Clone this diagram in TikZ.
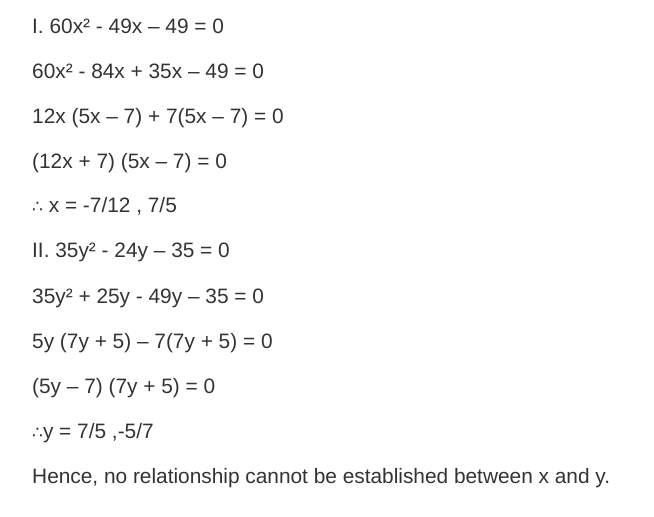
\documentclass[tikz,border=0pt]{standalone}
\usepackage{fontspec}
\setmainfont{Liberation Sans}
\newfontfamily\symfont{DejaVu Sans}
\definecolor{txt}{HTML}{333333}
\begin{document}
\begin{tikzpicture}[x=1bp,y=-1bp,
  ln/.style={anchor=base west,inner sep=0pt,text=txt,font=\fontsize{20.85bp}{24bp}\selectfont}]
\useasboundingbox[fill=white] (0,0) rectangle (654,517);
\node[ln] (l1) at (32,34) {I. 60x² - 49x – 49 = 0};
\node[ln] (l2) at (32,79) {60x² - 84x + 35x – 49 = 0};
\node[ln] (l3) at (32,124) {12x (5x – 7) + 7(5x – 7) = 0};
\node[ln] (l4) at (32,169) {(12x + 7) (5x – 7) = 0};
\node[ln] (l5) at (32,213) {{\symfont\fontsize{17bp}{20bp}\selectfont ∴} x = -7/12 , 7/5};
\node[ln] (l6) at (32,258) {II. 35y² - 24y – 35 = 0};
\node[ln] (l7) at (32,303) {35y² + 25y - 49y – 35 = 0};
\node[ln] (l8) at (32,348) {5y (7y + 5) – 7(7y + 5) = 0};
\node[ln] (l9) at (32,393) {(5y – 7) (7y + 5) = 0};
\node[ln] (l10) at (32,438) {{\symfont\fontsize{17bp}{20bp}\selectfont ∴}y = 7/5 ,-5/7};
\node[ln] (l11) at (32,483) {Hence, no relationship cannot be established between x and y.};
\end{tikzpicture}
\end{document}
